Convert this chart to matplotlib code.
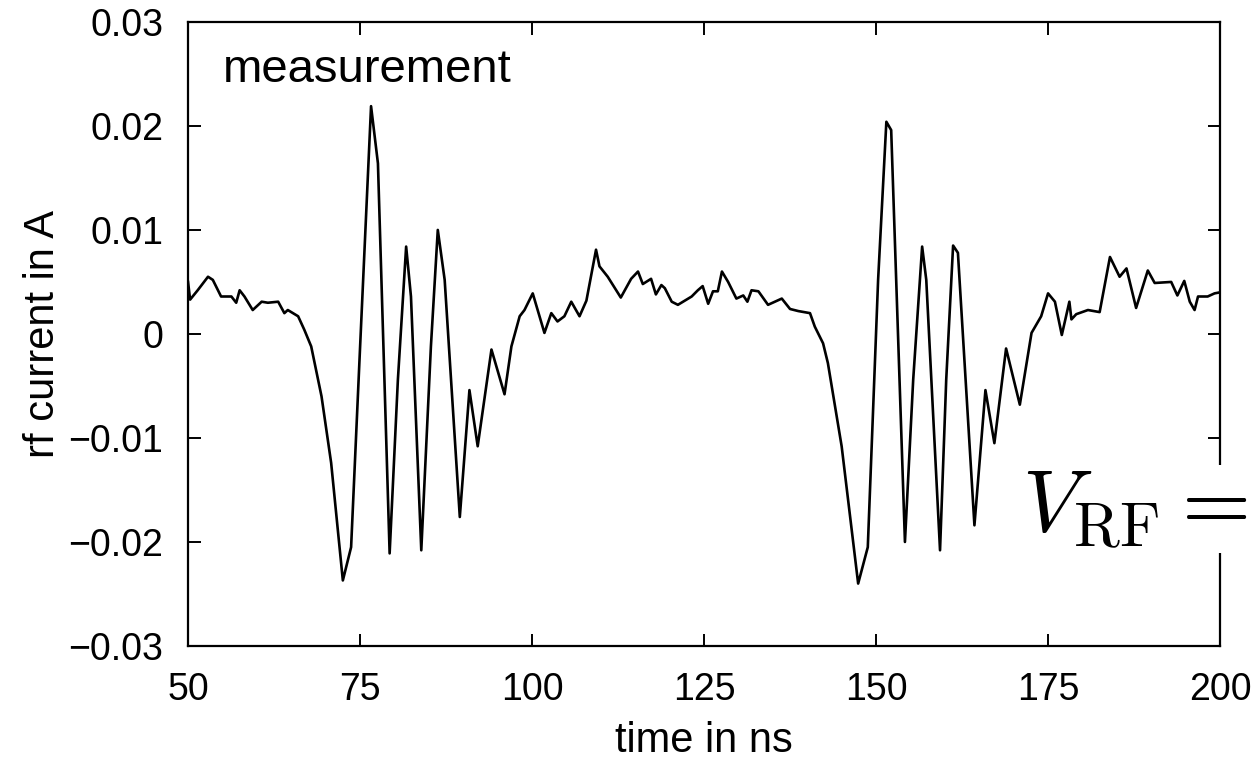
import matplotlib
matplotlib.use("Agg")
import matplotlib.pyplot as plt
import numpy as np

plt.rcParams['font.family'] = ['Liberation Sans', 'DejaVu Sans']
plt.rcParams['mathtext.fontset'] = 'cm'

# time in ns
t_ns = [50.0, 50.3, 51.4, 52.9, 53.6, 54.8, 56.3, 57.0, 57.5, 58.2, 59.4, 60.7,
        61.6, 63.1, 64.0, 64.5, 66.0, 66.9, 67.9, 69.4, 70.8, 72.5, 73.7, 74.9,
        76.6, 77.6, 79.3, 80.5, 81.7, 82.4, 83.9, 85.3, 86.3, 87.3, 89.5, 90.9,
        92.1, 94.1, 96.0, 97.0, 98.2, 98.9, 100.1, 101.8, 102.8, 103.7, 104.7,
        105.7, 106.9, 107.9, 109.3, 109.8, 111.0, 112.9, 114.4, 115.4, 116.1,
        117.3, 118.0, 118.8, 119.3, 120.3, 121.2, 123.2, 124.1, 124.8, 125.6,
        126.3, 127.0, 127.6, 128.5, 129.7, 130.7, 131.3, 131.9, 132.9, 134.3,
        136.3, 137.5, 138.7, 140.4, 141.1, 142.3, 143.0, 145.0, 147.4, 148.8,
        150.3, 151.5, 152.2, 154.2, 155.4, 156.7, 157.3, 159.3, 160.2, 161.2,
        161.9, 164.3, 165.9, 167.2, 168.9, 170.9, 172.6, 174.0, 175.0, 176.0,
        177.0, 178.1, 178.4, 179.1, 180.8, 182.5, 184.0, 185.4, 186.4, 187.8,
        189.5, 190.5, 192.9, 193.8, 194.8, 195.6, 196.3, 196.8, 198.2, 199.2,
        200.0]
# rf current in A
i_rf = [0.0050, 0.0033, 0.0042, 0.0055, 0.0052, 0.0036, 0.0036, 0.0030, 0.0042,
        0.0036, 0.0023, 0.0031, 0.0030, 0.0031, 0.0020, 0.0023, 0.0017, 0.0004,
        -0.0012, -0.0060, -0.0124, -0.0237, -0.0205, -0.0028, 0.0219, 0.0164,
        -0.0211, -0.0044, 0.0084, 0.0036, -0.0208, -0.0012, 0.0100, 0.0052,
        -0.0176, -0.0054, -0.0108, -0.0015, -0.0058, -0.0012, 0.0017, 0.0023,
        0.0039, 0.0001, 0.0020, 0.0012, 0.0017, 0.0031, 0.0017, 0.0032, 0.0081,
        0.0065, 0.0055, 0.0035, 0.0053, 0.0060, 0.0048, 0.0053, 0.0038, 0.0047,
        0.0044, 0.0031, 0.0028, 0.0036, 0.0042, 0.0046, 0.0029, 0.0041, 0.0041,
        0.0060, 0.0050, 0.0034, 0.0037, 0.0031, 0.0042, 0.0041, 0.0028, 0.0034,
        0.0024, 0.0022, 0.0020, 0.0007, -0.0009, -0.0028, -0.0108, -0.0240,
        -0.0205, 0.0052, 0.0204, 0.0196, -0.0200, -0.0044, 0.0084, 0.0052,
        -0.0208, -0.0044, 0.0085, 0.0078, -0.0184, -0.0054, -0.0105, -0.0014,
        -0.0068, 0.0001, 0.0017, 0.0039, 0.0031, -0.0001, 0.0031, 0.0014,
        0.0019, 0.0023, 0.0021, 0.0074, 0.0055, 0.0063, 0.0025, 0.0061, 0.0049,
        0.0050, 0.0037, 0.0051, 0.0031, 0.0023, 0.0036, 0.0036, 0.0039, 0.0040]

x_ticks = [50, 75, 100, 125, 150, 175, 200]
y_ticks = [-0.03, -0.02, -0.01, 0, 0.01, 0.02, 0.03]
y_ticklabels = ["\u22120.03", "\u22120.02", "\u22120.01", "0", "0.01", "0.02", "0.03"]

fig = plt.figure(figsize=(12.57, 7.64), dpi=100)
ax = fig.add_axes([0.1496, 0.1545, 0.821, 0.8168])

ax.plot(t_ns, i_rf, color="black", linewidth=1.9)
ax.set_xlim(50, 200)
ax.set_ylim(-0.03, 0.03)
ax.set_xticks(x_ticks)
ax.set_yticks(y_ticks)
ax.set_yticklabels(y_ticklabels)
ax.tick_params(direction="in", top=True, right=True, length=9, width=1.4,
               labelsize=27)
ax.tick_params(axis="x", pad=19)
ax.tick_params(axis="y", pad=18)
for s in ax.spines.values():
    s.set_linewidth(1.6)

ax.set_xlabel("time in ns", fontsize=30, labelpad=9)
ax.set_ylabel("rf current in A", fontsize=30, labelpad=4)
ax.text(0.034, 0.904, "measurement", transform=ax.transAxes, fontsize=34,
        va="baseline", ha="left")

fig.text(1022 / 1257, 0.3037, r"$V_{\rm RF} =$", fontsize=64, va="baseline",
         ha="left", bbox=dict(facecolor="white", edgecolor="none", pad=1))

fig.savefig("out.png", dpi=100)
